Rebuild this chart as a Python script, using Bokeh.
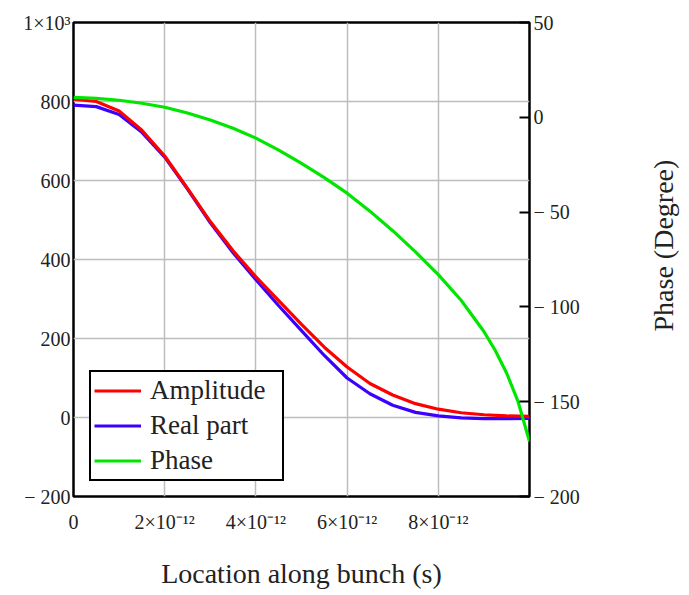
import math
from bokeh.plotting import figure
from bokeh.layouts import row
from bokeh.models import Range1d, LinearAxis, FixedTicker, Legend, LegendItem, Label
from bokeh.embed import file_html
from bokeh.resources import INLINE

# ---- data ----
t_ps = [0, 0.5, 1, 1.5, 2, 2.5, 3, 3.5, 4, 4.5, 5, 5.5, 6, 6.5, 7, 7.5, 8, 8.5, 9, 9.5, 10]
amplitude = [806, 800, 776, 727, 662, 580, 496, 422, 356, 296, 236, 178, 128, 86, 57, 35, 21, 12, 7, 4, 3]
real_part = [791, 787, 767, 722, 659, 578, 493, 417, 349, 283, 220, 157, 100, 60, 31, 13, 4, -1, -3, -3, -2]

phase_t_ps = [0, 0.5, 1, 1.5, 2, 2.5, 3, 3.5, 4, 4.5, 5, 5.5, 6, 6.5, 7, 7.5, 8, 8.5, 9, 9.25, 9.5, 9.75, 10]
phase_deg = [10.5, 10.0, 9.0, 7.4, 5.3, 2.3, -1.4, -5.8, -11.0, -17.3, -24.3, -31.8, -40.0, -49.5,
             -59.8, -71.0, -83.0, -96.5, -113, -123, -135, -150, -171]

x_ticks = [0, 2e-12, 4e-12, 6e-12, 8e-12]
x_labels = ["0", "2×10⁻¹²", "4×10⁻¹²", "6×10⁻¹²", "8×10⁻¹²"]
y_ticks = [-200, 0, 200, 400, 600, 800, 1000]
y_labels = ["− 200", "0", "200", "400", "600", "800", "1×10³"]
phase_ticks = [-200, -150, -100, -50, 0, 50]
phase_labels = ["− 200", "− 150", "− 100", "− 50", "0", "50"]

x_title = "Location along bunch (s)"
phase_title = "Phase (Degree)"

x = [v * 1e-12 for v in t_ps]
xp = [v * 1e-12 for v in phase_t_ps]

FONT = "Liberation Serif"
TXT = "#222222"

p = figure(width=620, height=595, output_backend="svg", toolbar_location=None,
           x_range=Range1d(0, 1e-11), y_range=Range1d(-200, 1000),
           min_border_left=73, min_border_right=91, min_border_top=22, min_border_bottom=99,
           background_fill_color="white", border_fill_color="white")
p.extra_y_ranges = {"phase": Range1d(-200, 50)}

p.outline_line_color = "black"
p.outline_line_width = 2.5
p.outline_line_alpha = 1.0

# left axis
ya = p.yaxis[0]
ya.ticker = FixedTicker(ticks=y_ticks)
ya.major_label_overrides = dict(zip(y_ticks, y_labels))
ya.major_tick_in = 0
ya.major_tick_out = 0
ya.minor_tick_in = 0
ya.minor_tick_out = 0
ya.axis_line_color = None
ya.major_label_standoff = 3
ya.major_label_text_font = FONT
ya.major_label_text_font_size = "20px"
ya.major_label_text_color = TXT

# bottom axis
xa = p.xaxis[0]
xa.ticker = FixedTicker(ticks=x_ticks)
xa.major_label_overrides = dict(zip(x_ticks, x_labels))
xa.major_tick_in = 0
xa.major_tick_out = 0
xa.minor_tick_in = 0
xa.minor_tick_out = 0
xa.axis_line_color = None
xa.major_label_standoff = 14
xa.major_label_text_font = FONT
xa.major_label_text_font_size = "20px"
xa.major_label_text_color = TXT
xa.axis_label = x_title
xa.axis_label_text_font = FONT
xa.axis_label_text_font_size = "28px"
xa.axis_label_text_font_style = "normal"
xa.axis_label_text_color = TXT
xa.axis_label_standoff = 22

# right axis (phase)
ra = LinearAxis(y_range_name="phase", ticker=FixedTicker(ticks=phase_ticks),
                major_label_overrides=dict(zip(phase_ticks, phase_labels)))
ra.major_tick_in = 10
ra.major_tick_out = 0
ra.major_tick_line_width = 2
ra.major_tick_line_color = "black"
ra.minor_tick_in = 0
ra.minor_tick_out = 0
ra.axis_line_color = None
ra.major_label_standoff = 4
ra.major_label_text_font = FONT
ra.major_label_text_font_size = "20px"
ra.major_label_text_color = TXT
p.add_layout(ra, "right")

# grids
p.xgrid.ticker = FixedTicker(ticks=x_ticks)
p.ygrid.ticker = FixedTicker(ticks=y_ticks)
for g in (p.xgrid[0], p.ygrid[0]):
    g.grid_line_color = "#bdbdbd"
    g.grid_line_width = 1.5
    g.grid_line_alpha = 1.0

r_real = p.line(x, real_part, line_color="#3c00ff", line_width=3.2)
r_amp = p.line(x, amplitude, line_color="#ff0000", line_width=3.2)
r_phase = p.line(xp, phase_deg, line_color="#00e600", line_width=3.2, y_range_name="phase")

legend = Legend(items=[LegendItem(label="Amplitude", renderers=[r_amp]),
                       LegendItem(label="Real part", renderers=[r_real]),
                       LegendItem(label="Phase", renderers=[r_phase])],
                location=(16, 15), margin=0, padding=3, spacing=4,
                glyph_width=47, glyph_height=31, label_height=31, label_width=129,
                label_standoff=9,
                label_text_font=FONT, label_text_font_size="27px", label_text_color=TXT,
                border_line_color="black", border_line_width=2.5, border_line_alpha=1.0,
                background_fill_color="white", background_fill_alpha=1.0)
p.add_layout(legend)

# narrow strip on the right that carries the phase-axis title, reading upwards
p2 = figure(width=69, height=595, output_backend="svg", toolbar_location=None,
            x_range=Range1d(0, 69), y_range=Range1d(0, 595),
            x_axis_location=None, y_axis_location=None, min_border=0,
            background_fill_color="white", border_fill_color="white")
p2.outline_line_color = None
p2.grid.visible = False
p2.add_layout(Label(x=43, y=315, text=phase_title, angle=math.pi / 2,
                    text_align="center", text_baseline="middle",
                    text_font=FONT, text_font_size="28px", text_color=TXT))

layout = row(p, p2, spacing=0)
open("out.html", "w").write(file_html(layout, INLINE))
